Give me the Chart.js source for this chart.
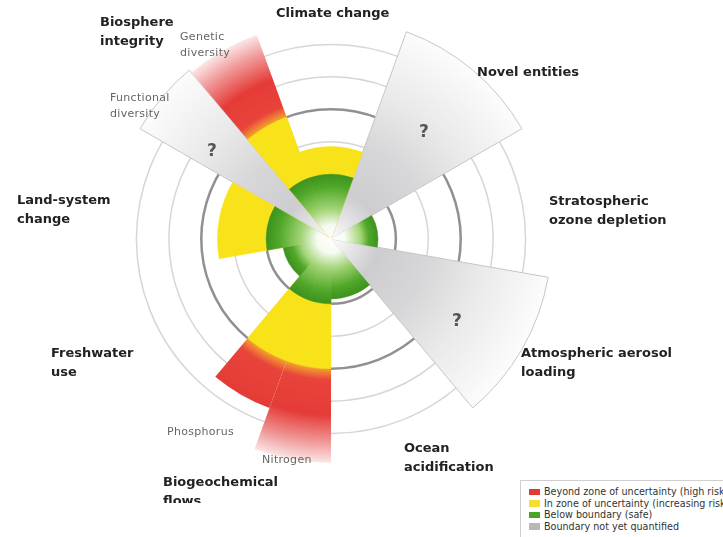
<!DOCTYPE html>
<html>
  <head>
    <meta charset="utf-8" />
    <title>Planetary boundaries</title>
    <script src="https://cdn.jsdelivr.net/npm/chart.js@4.4.0/dist/chart.umd.min.js"></script>
    <style>
      body { margin: 0; width: 723px; height: 537px; overflow: hidden; background: #fff; position: relative; font-family: "DejaVu Sans", sans-serif; }
      #wrap { position: absolute; left: 104px; top: 12px; width: 455px; height: 455px; }
      .lbl { position: absolute; font-weight: bold; font-size: 13px; line-height: 19px; color: #222; white-space: nowrap; }
      .sub { position: absolute; font-size: 11px; line-height: 16px; color: #666; white-space: nowrap; letter-spacing: 0.3px; }
      .q { position: absolute; font-weight: bold; font-size: 17px; line-height: 20px; color: #555; }
      #clip { position: absolute; left: 0; top: 0; width: 723px; height: 503px; overflow: hidden; }
      #legend { position: absolute; left: 520px; top: 480px; width: 240px; height: 62px; border: 1px solid #cfcfcf; box-sizing: border-box; padding-top: 5px; background: #fff; }
      .li { position: relative; height: 11.5px; line-height: 11.5px; font-size: 9.6px; color: #333; padding-left: 23px; white-space: nowrap; }
      .sw { position: absolute; left: 8px; top: 2.5px; width: 11px; height: 6.5px; }
    </style>
  </head>
  <body>
    <div id="wrap"><canvas id="myChart" width="455" height="455"></canvas></div>

    <div class="q" style="left:207px; top:140px">?</div>
    <div class="q" style="left:419px; top:121px">?</div>
    <div class="q" style="left:452px; top:310px">?</div>

    <div class="lbl" style="left:276px; top:3px">Climate change</div>
    <div class="lbl" style="left:100px; top:12px">Biosphere<br />integrity</div>
    <div class="sub" style="left:180px; top:29px">Genetic<br />diversity</div>
    <div class="sub" style="left:110px; top:90px">Functional<br />diversity</div>
    <div class="lbl" style="left:477px; top:62px">Novel entities</div>
    <div class="lbl" style="left:549px; top:191px">Stratospheric<br />ozone depletion</div>
    <div class="lbl" style="left:521px; top:343px">Atmospheric aerosol<br />loading</div>
    <div class="lbl" style="left:404px; top:438px">Ocean<br />acidification</div>
    <div class="lbl" style="left:51px; top:343px">Freshwater<br />use</div>
    <div class="lbl" style="left:17px; top:190px">Land-system<br />change</div>
    <div class="sub" style="left:167px; top:424px">Phosphorus</div>
    <div class="sub" style="left:262px; top:452px">Nitrogen</div>
    <div id="clip"><div class="lbl" style="left:163px; top:472px">Biogeochemical<br />flows</div></div>

    <div id="legend">
      <div class="li"><span class="sw" style="background:#e23a33"></span>Beyond zone of uncertainty (high risk)</div>
      <div class="li"><span class="sw" style="background:#f6df2a"></span>In zone of uncertainty (increasing risk)</div>
      <div class="li"><span class="sw" style="background:#48a526"></span>Below boundary (safe)</div>
      <div class="li"><span class="sw" style="background:#b8b8b8"></span>Boundary not yet quantified</div>
    </div>

    <script>
      // segments clockwise from -20deg (top)
      const segments = [
        "Climate change", "Novel entities", "Stratospheric ozone depletion",
        "Atmospheric aerosol loading", "Ocean acidification", "Nitrogen",
        "Phosphorus", "Freshwater use", "Land-system change",
        "Functional diversity", "Genetic diversity",
      ];
      const angles = [40, 40, 40, 40, 40, 20, 20, 40, 40, 20, 20];
      // radial extent of each zone, in boundary-ring units
      const safe      = [2, 0, 1.45, 0, 1.85, 2, 2, 1.5, 2, 0, 2];
      const uncertain = [2.85, 0, 0, 0, 0, 4, 4, 0, 3.5, 0, 4];
      const beyond    = [0, 0, 0, 0, 0, 6.9, 5.55, 0, 0, 0, 6.7];
      const unknown   = [0, 6.8, 0, 6.8, 0, 0, 0, 0, 0, 6.8, 0];

      function radial(c, fallback, stopsFor) {
        const chart = c.chart;
        const s = chart.scales && chart.scales.r;
        if (!s || !chart.chartArea || !s.drawingArea || c.raw === undefined) return fallback;
        const R = s.getDistanceFromCenterForValue(c.raw);
        if (R <= 1) return fallback;
        const g = chart.ctx.createRadialGradient(s.xCenter, s.yCenter, 0, s.xCenter, s.yCenter, R);
        let last = 0;
        stopsFor(R).forEach(([px, col]) => {
          let o = Math.min(1, Math.max(last, px / R));
          g.addColorStop(o, col);
          last = o;
        });
        return g;
      }

      const greenFill = (c) => radial(c, "#4aa52a", (R) => [
        [0, "#ffffff"], [14, "#f6fbf2"], [30, "#a3d477"], [R * 0.8, "#52a82a"], [R, "#3c921c"],
      ]);
      const redFill = (c) => radial(c, "#e53b37", (R) => {
        const st = [[0, "#f6b52a"], [128, "#f5b02c"], [141, "#e8443a"]];
        if (R > 200) st.push([R - 48, "#e53b37"], [R - 20, "#f09a9a"], [R, "#fbe6e6"]);
        else st.push([R, "#e53b37"]);
        return st;
      });
      const grayFill = (c) => radial(c, "#d5d5d7", (R) => [
        [0, "#ffffff"], [22, "#e6e6e8"], [48, "#cdcdd0"], [100, "#d7d7d9"], [150, "#e9e9e9"], [R, "#fcfcfc"],
      ]);

      const data = {
        labels: segments,
        datasets: [
          { label: "Below boundary (safe)", data: safe, backgroundColor: greenFill, borderColor: greenFill, borderWidth: 0.5 },
          { label: "In zone of uncertainty", data: uncertain, backgroundColor: "#f8e31b", borderColor: "#f8e31b", borderWidth: 0.5 },
          { label: "Beyond zone of uncertainty", data: beyond, backgroundColor: redFill, borderWidth: 0 },
          { label: "Boundary not yet quantified", data: unknown, backgroundColor: grayFill, borderColor: "#c6c6c6", borderWidth: 1 },
        ],
      };
      data.datasets.forEach((d) => { d.angle = (c) => angles[c.dataIndex]; });

      const config = {
        type: "polarArea",
        data: data,
        options: {
          responsive: false,
          animation: false,
          layout: { padding: 0 },
          plugins: { legend: { display: false }, tooltip: { enabled: false } },
          scales: {
            r: {
              min: 0,
              max: 7,
              startAngle: -20,
              z: 1,
              ticks: { display: false, stepSize: 1 },
              angleLines: { display: false },
              pointLabels: { display: false },
              grid: {
                circular: true,
                color: (c) => {
                  const v = c.tick && c.tick.value;
                  if (v === 2 || v === 4) return "rgba(125,125,125,0.85)";
                  if (v >= 3 && v <= 6) return "rgba(165,165,165,0.45)";
                  return "rgba(0,0,0,0)";
                },
                lineWidth: (c) => {
                  const v = c.tick && c.tick.value;
                  return v === 2 || v === 4 ? 2.5 : 1.5;
                },
              },
            },
          },
        },
      };
      const ctx = document.getElementById("myChart");
      const myChart = new Chart(ctx, config);
    </script>
  </body>
</html>
